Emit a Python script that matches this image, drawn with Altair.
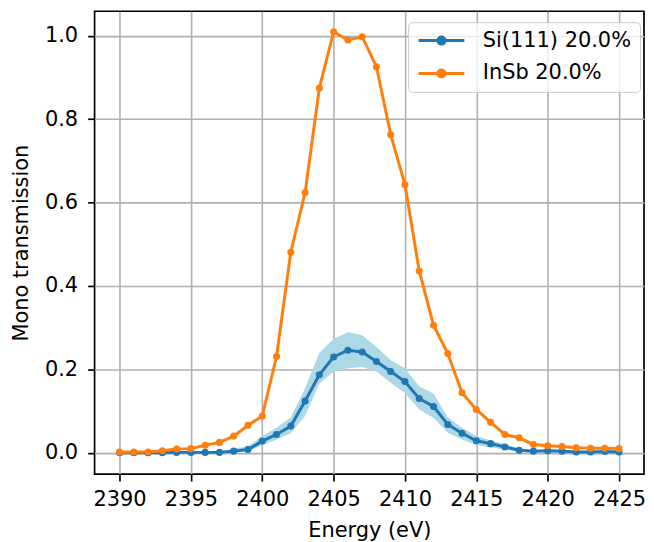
import altair as alt
import pandas as pd

energy = list(range(2390, 2426))
si111 = [0.0, 0.0, 0.0, 0.0, 0.001, 0.001, 0.001, 0.001, 0.004, 0.008,
         0.028, 0.044, 0.064, 0.124, 0.187, 0.230, 0.246, 0.242, 0.219, 0.195,
         0.171, 0.130, 0.111, 0.068, 0.047, 0.029, 0.022, 0.014, 0.006, 0.004,
         0.005, 0.004, 0.002, 0.002, 0.003, 0.002]
si_lower = [0.0, 0.0, 0.0, 0.0, 0.0, 0.0, 0.0, 0.0, 0.001, 0.004,
            0.018, 0.032, 0.047, 0.088, 0.166, 0.195, 0.203, 0.206, 0.195, 0.168,
            0.143, 0.104, 0.084, 0.048, 0.032, 0.019, 0.013, 0.008, 0.003, 0.002,
            0.002, 0.002, 0.001, 0.001, 0.001, 0.001]
si_upper = [0.002, 0.002, 0.002, 0.002, 0.003, 0.003, 0.004, 0.005, 0.010, 0.016,
            0.040, 0.060, 0.085, 0.155, 0.240, 0.273, 0.290, 0.282, 0.254, 0.222,
            0.203, 0.159, 0.142, 0.085, 0.060, 0.040, 0.030, 0.021, 0.011, 0.007,
            0.007, 0.006, 0.004, 0.004, 0.005, 0.004]
insb = [0.002, 0.002, 0.002, 0.005, 0.009, 0.010, 0.018, 0.025, 0.040, 0.066,
        0.088, 0.231, 0.481, 0.624, 0.875, 1.010, 0.990, 0.998, 0.926, 0.763,
        0.643, 0.436, 0.306, 0.238, 0.144, 0.104, 0.073, 0.044, 0.036, 0.020,
        0.017, 0.015, 0.012, 0.011, 0.011, 0.010]

series_names = ["Si(111) 20.0%", "InSb 20.0%"]
series_colors = ["#1f77b4", "#ff7f0e"]
x_ticks = [2390, 2395, 2400, 2405, 2410, 2415, 2420, 2425]
y_ticks = [0.0, 0.2, 0.4, 0.6, 0.8, 1.0]

band_df = pd.DataFrame({"energy": energy, "lower": si_lower, "upper": si_upper})
long_df = pd.DataFrame({
    "energy": energy * 2,
    "value": si111 + insb,
    "series": [series_names[0]] * len(energy) + [series_names[1]] * len(energy),
})

FONT = "DejaVu Sans"
FS = 21

x_scale = alt.Scale(domain=[2388.25, 2426.75], nice=False, zero=False)
y_scale = alt.Scale(domain=[-0.051, 1.059], nice=False, zero=False)

x_axis = alt.Axis(values=x_ticks, format="d", title="Energy (eV)", grid=True,
                  labelFlush=False, labelOverlap=False)
y_axis = alt.Axis(values=y_ticks, format=".1f", title="Mono transmission", grid=True)

legend = alt.Legend(
    title=None,
    orient="none",
    legendX=315,
    legendY=11,
    symbolType="M-1,0H4.75M2.315,0A0.44,0.44 0 1,1 1.435,0A0.44,0.44 0 1,1 2.315,0Z",
    symbolSize=256,
    symbolStrokeWidth=3,
    symbolOpacity=1,
    labelOffset=46,
    rowPadding=11,
    padding=8,
    labelFontSize=FS,
    labelFont=FONT,
    labelColor="black",
    strokeColor="#cccccc",
    fillColor="rgba(255,255,255,0.8)",
    cornerRadius=4,
)

band = alt.Chart(band_df).mark_area(color="#add8e6", opacity=1).encode(
    x=alt.X("energy:Q", scale=x_scale, axis=x_axis),
    y=alt.Y("lower:Q", scale=y_scale, axis=y_axis),
    y2="upper:Q",
)

lines = alt.Chart(long_df).mark_line(strokeWidth=3).encode(
    x=alt.X("energy:Q", scale=x_scale),
    y=alt.Y("value:Q", scale=y_scale),
    stroke=alt.Stroke("series:N",
                      scale=alt.Scale(domain=series_names, range=series_colors),
                      sort=series_names, legend=legend),
)

points = alt.Chart(long_df).mark_point(filled=True, size=50, opacity=1).encode(
    x=alt.X("energy:Q", scale=x_scale),
    y=alt.Y("value:Q", scale=y_scale),
    fill=alt.Fill("series:N",
                  scale=alt.Scale(domain=series_names, range=series_colors),
                  sort=series_names, legend=legend),
)

chart = alt.layer(band, lines, points).properties(
    width=552,
    height=465,
    padding={"left": 2, "top": 2, "right": 0, "bottom": 0},
).configure_view(
    stroke="black", strokeWidth=1.7
).configure_axis(
    labelFont=FONT, titleFont=FONT, labelFontSize=FS, titleFontSize=FS,
    labelColor="black", titleColor="black", titleFontWeight="normal",
    domain=False, tickColor="black", tickWidth=1.7, tickSize=7,
    gridColor="#b0b0b0", gridWidth=1.6,
).configure_axisX(
    labelPadding=8, titlePadding=10,
).configure_axisY(
    labelPadding=10, titlePadding=13,
)

chart.save("out.html", embed_options={"renderer": "svg", "actions": False})
